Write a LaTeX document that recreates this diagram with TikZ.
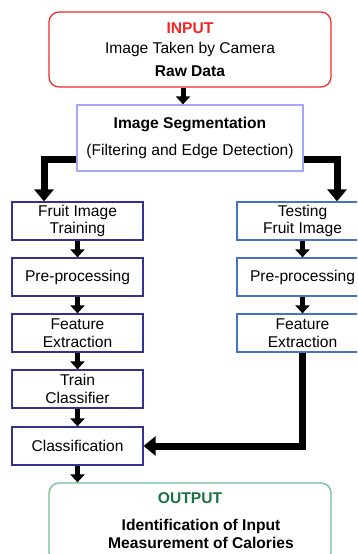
\documentclass[tikz,border=0pt]{standalone}
\usepackage{fontspec}
\setmainfont{Liberation Sans}
\usetikzlibrary{arrows.meta}
\newlength{\du}
\setlength{\du}{1\unitlength}
\definecolor{inputcolor}{rgb}{0.950000, 0.150000, 0.150000}
\definecolor{segcolor}{rgb}{0.650000, 0.650000, 0.980000}
\definecolor{traincolor}{rgb}{0.200000, 0.200000, 0.560000}
\definecolor{testcolor}{rgb}{0.270000, 0.450000, 0.780000}
\definecolor{outputcolor}{rgb}{0.420000, 0.740000, 0.560000}
\definecolor{outtextcolor}{rgb}{0.100000, 0.450000, 0.250000}
\tikzset{
  box/.style={draw, line width=1.2\du, minimum width=131\du, minimum height=38\du,
    inner sep=0pt, align=center, font=\fontsize{15.6}{17.5}\selectfont},
  roundbox/.style={box, rounded corners=10\du},
  arr/.style={line width=5\du, -{Triangle[width=14pt,length=8pt]}},
  bigarr/.style={line width=7\du, -{Triangle[width=19pt,length=12pt]}},
}

\begin{document}
\begin{tikzpicture}
\pgftransformxscale{1.000000}
\pgftransformyscale{-1.000000}
\clip (0\du,0\du) rectangle (357\du,554\du);
% input and segmentation
\node[roundbox, draw=inputcolor, minimum width=282\du, minimum height=75\du] (inp) at (190.000000\du,49.500000\du)
  {\textcolor{inputcolor}{\textbf{INPUT}}\\[3pt] Image Taken by Camera\\[5pt] \textbf{Raw Data}};
\node[box, draw=segcolor, minimum width=226\du, minimum height=66\du] (seg) at (190.000000\du,138.000000\du)
  {\textbf{Image Segmentation}\\[9pt] (Filtering and Edge Detection)};
% training branch
\node[box, draw=traincolor] (ltrain) at (77.500000\du,221.000000\du) {Fruit Image\\Training};
\node[box, draw=traincolor] (lpre) at (77.500000\du,277.000000\du) {Pre-processing};
\node[box, draw=traincolor] (lfeat) at (77.500000\du,333.000000\du) {Feature\\Extraction};
\node[box, draw=traincolor] (lclf) at (77.500000\du,389.000000\du) {Train\\Classifier};
\node[box, draw=traincolor] (lcls) at (77.500000\du,446.000000\du) {Classification};
% testing branch
\node[box, draw=testcolor] (rtest) at (302.500000\du,221.000000\du) {Testing\\Fruit Image};
\node[box, draw=testcolor] (rpre) at (302.500000\du,277.000000\du) {Pre-processing};
\node[box, draw=testcolor] (rfeat) at (302.500000\du,333.000000\du) {Feature\\Extraction};
% output
\node[roundbox, draw=outputcolor, minimum width=282\du, minimum height=80\du] (out) at (190.000000\du,523.000000\du) {};
\node[font=\fontsize{15.6}{17.5}\selectfont\bfseries, text=outtextcolor] (outtitle) at (190.000000\du,498.000000\du) {OUTPUT};
\node[font=\fontsize{15.6}{17.5}\selectfont\bfseries, align=center] (outtext) at (201.000000\du,534.000000\du)
  {Identification of Input\\Measurement of Calories};
% bends of the connectors
\coordinate (topx) at (183.000000\du,0.000000\du);
\coordinate (lbend) at (44.000000\du,159.000000\du);
\coordinate (rbend) at (337.000000\du,159.000000\du);
\draw[arr] (inp.south -| topx) -- (seg.north -| topx);
\draw[bigarr] (seg.west |- lbend) -| (lbend |- ltrain.north);
\draw[bigarr] (seg.east |- rbend) -| (rbend |- rtest.north);
\draw[arr] (ltrain) -- (lpre);
\draw[arr] (lpre) -- (lfeat);
\draw[arr] (lfeat) -- (lclf);
\draw[arr] (lclf) -- (lcls);
\draw[arr] (rtest) -- (rpre);
\draw[arr] (rpre) -- (rfeat);
\draw[bigarr] (rfeat.south) |- (lcls.east);
\draw[arr] (lcls.south) -- (lcls.south |- out.north);
\end{tikzpicture}
\end{document}
